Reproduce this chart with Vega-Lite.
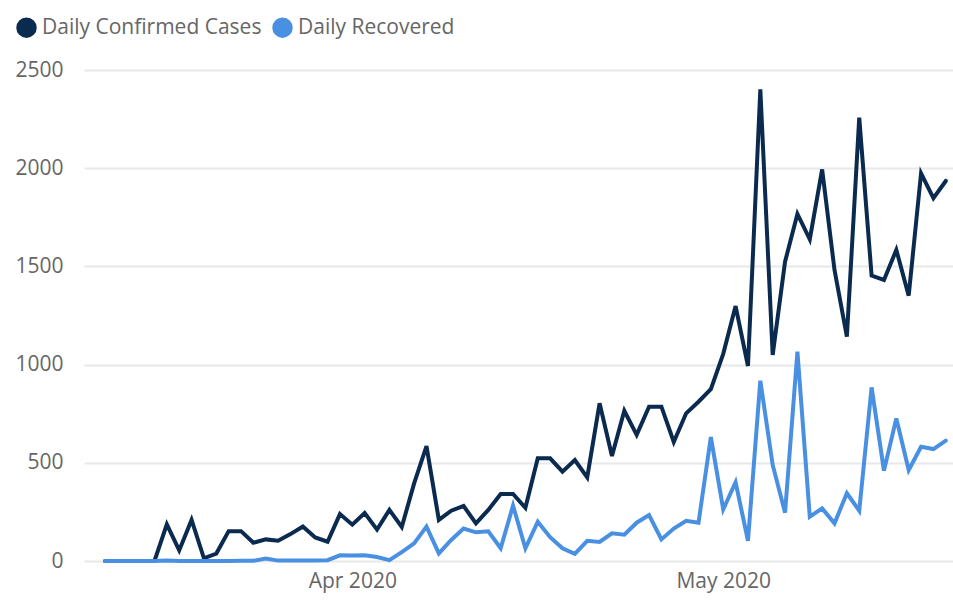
{
  "$schema": "https://vega.github.io/schema/vega-lite/v6.json",
  "width": 869,
  "height": 491,
  "autosize": {"type": "none"},
  "padding": {"left": 84, "top": 70, "right": 0, "bottom": 39},
  "background": "white",
  "config": {"view": {"stroke": null}, "font": "Open Sans"},
  "data": {
    "values": [
      {"date": "2020-03-12", "Daily Confirmed Cases": 0, "Daily Recovered": 0},
      {"date": "2020-03-13", "Daily Confirmed Cases": 0, "Daily Recovered": 0},
      {"date": "2020-03-14", "Daily Confirmed Cases": 0, "Daily Recovered": 0},
      {"date": "2020-03-15", "Daily Confirmed Cases": 0, "Daily Recovered": 0},
      {"date": "2020-03-16", "Daily Confirmed Cases": 0, "Daily Recovered": 0},
      {"date": "2020-03-17", "Daily Confirmed Cases": 187, "Daily Recovered": 3},
      {"date": "2020-03-18", "Daily Confirmed Cases": 54, "Daily Recovered": 0},
      {"date": "2020-03-19", "Daily Confirmed Cases": 209, "Daily Recovered": 0},
      {"date": "2020-03-20", "Daily Confirmed Cases": 14, "Daily Recovered": 0},
      {"date": "2020-03-21", "Daily Confirmed Cases": 38, "Daily Recovered": 0},
      {"date": "2020-03-22", "Daily Confirmed Cases": 152, "Daily Recovered": 0},
      {"date": "2020-03-23", "Daily Confirmed Cases": 152, "Daily Recovered": 1},
      {"date": "2020-03-24", "Daily Confirmed Cases": 93, "Daily Recovered": 1},
      {"date": "2020-03-25", "Daily Confirmed Cases": 110, "Daily Recovered": 12},
      {"date": "2020-03-26", "Daily Confirmed Cases": 103, "Daily Recovered": 2},
      {"date": "2020-03-27", "Daily Confirmed Cases": 137, "Daily Recovered": 2},
      {"date": "2020-03-28", "Daily Confirmed Cases": 176, "Daily Recovered": 3},
      {"date": "2020-03-29", "Daily Confirmed Cases": 120, "Daily Recovered": 2},
      {"date": "2020-03-30", "Daily Confirmed Cases": 98, "Daily Recovered": 4},
      {"date": "2020-03-31", "Daily Confirmed Cases": 239, "Daily Recovered": 29},
      {"date": "2020-04-01", "Daily Confirmed Cases": 185, "Daily Recovered": 28},
      {"date": "2020-04-02", "Daily Confirmed Cases": 244, "Daily Recovered": 29},
      {"date": "2020-04-03", "Daily Confirmed Cases": 160, "Daily Recovered": 20},
      {"date": "2020-04-04", "Daily Confirmed Cases": 260, "Daily Recovered": 4},
      {"date": "2020-04-05", "Daily Confirmed Cases": 173, "Daily Recovered": 45},
      {"date": "2020-04-06", "Daily Confirmed Cases": 395, "Daily Recovered": 90},
      {"date": "2020-04-07", "Daily Confirmed Cases": 585, "Daily Recovered": 175},
      {"date": "2020-04-08", "Daily Confirmed Cases": 209, "Daily Recovered": 39},
      {"date": "2020-04-09", "Daily Confirmed Cases": 256, "Daily Recovered": 107},
      {"date": "2020-04-10", "Daily Confirmed Cases": 280, "Daily Recovered": 165},
      {"date": "2020-04-11", "Daily Confirmed Cases": 192, "Daily Recovered": 146},
      {"date": "2020-04-12", "Daily Confirmed Cases": 260, "Daily Recovered": 151},
      {"date": "2020-04-13", "Daily Confirmed Cases": 341, "Daily Recovered": 65},
      {"date": "2020-04-14", "Daily Confirmed Cases": 341, "Daily Recovered": 282},
      {"date": "2020-04-15", "Daily Confirmed Cases": 271, "Daily Recovered": 65},
      {"date": "2020-04-16", "Daily Confirmed Cases": 523, "Daily Recovered": 200},
      {"date": "2020-04-17", "Daily Confirmed Cases": 523, "Daily Recovered": 121},
      {"date": "2020-04-18", "Daily Confirmed Cases": 455, "Daily Recovered": 65},
      {"date": "2020-04-19", "Daily Confirmed Cases": 514, "Daily Recovered": 36},
      {"date": "2020-04-20", "Daily Confirmed Cases": 426, "Daily Recovered": 103},
      {"date": "2020-04-21", "Daily Confirmed Cases": 803, "Daily Recovered": 97},
      {"date": "2020-04-22", "Daily Confirmed Cases": 535, "Daily Recovered": 141},
      {"date": "2020-04-23", "Daily Confirmed Cases": 765, "Daily Recovered": 134},
      {"date": "2020-04-24", "Daily Confirmed Cases": 642, "Daily Recovered": 195},
      {"date": "2020-04-25", "Daily Confirmed Cases": 786, "Daily Recovered": 234},
      {"date": "2020-04-26", "Daily Confirmed Cases": 786, "Daily Recovered": 110},
      {"date": "2020-04-27", "Daily Confirmed Cases": 606, "Daily Recovered": 165},
      {"date": "2020-04-28", "Daily Confirmed Cases": 752, "Daily Recovered": 205},
      {"date": "2020-04-29", "Daily Confirmed Cases": 811, "Daily Recovered": 195},
      {"date": "2020-04-30", "Daily Confirmed Cases": 875, "Daily Recovered": 631},
      {"date": "2020-05-01", "Daily Confirmed Cases": 1055, "Daily Recovered": 263},
      {"date": "2020-05-02", "Daily Confirmed Cases": 1298, "Daily Recovered": 401},
      {"date": "2020-05-03", "Daily Confirmed Cases": 993, "Daily Recovered": 103},
      {"date": "2020-05-04", "Daily Confirmed Cases": 2402, "Daily Recovered": 918},
      {"date": "2020-05-05", "Daily Confirmed Cases": 1049, "Daily Recovered": 489},
      {"date": "2020-05-06", "Daily Confirmed Cases": 1524, "Daily Recovered": 246},
      {"date": "2020-05-07", "Daily Confirmed Cases": 1767, "Daily Recovered": 1066},
      {"date": "2020-05-08", "Daily Confirmed Cases": 1638, "Daily Recovered": 226},
      {"date": "2020-05-09", "Daily Confirmed Cases": 1994, "Daily Recovered": 268},
      {"date": "2020-05-10", "Daily Confirmed Cases": 1482, "Daily Recovered": 192},
      {"date": "2020-05-11", "Daily Confirmed Cases": 1142, "Daily Recovered": 345},
      {"date": "2020-05-12", "Daily Confirmed Cases": 2257, "Daily Recovered": 256},
      {"date": "2020-05-13", "Daily Confirmed Cases": 1453, "Daily Recovered": 884},
      {"date": "2020-05-14", "Daily Confirmed Cases": 1431, "Daily Recovered": 460},
      {"date": "2020-05-15", "Daily Confirmed Cases": 1584, "Daily Recovered": 726},
      {"date": "2020-05-16", "Daily Confirmed Cases": 1351, "Daily Recovered": 463},
      {"date": "2020-05-17", "Daily Confirmed Cases": 1974, "Daily Recovered": 582},
      {"date": "2020-05-18", "Daily Confirmed Cases": 1847, "Daily Recovered": 570},
      {"date": "2020-05-19", "Daily Confirmed Cases": 1935, "Daily Recovered": 613}
    ]
  },
  "transform": [
    {"fold": ["Daily Confirmed Cases", "Daily Recovered"], "as": ["series", "value"]}
  ],
  "mark": {"type": "line", "strokeWidth": 4, "strokeCap": "round", "strokeJoin": "miter"},
  "encoding": {
    "x": {
      "field": "date",
      "type": "temporal",
      "scale": {
        "type": "utc",
        "domain": [
          {"year": 2020, "month": 3, "date": 10, "hours": 7, "minutes": 12, "utc": true},
          {"year": 2020, "month": 5, "date": 19, "hours": 14, "utc": true}
        ]
      },
      "axis": {
        "title": null,
        "values": [
          {"year": 2020, "month": 4, "date": 1, "utc": true},
          {"year": 2020, "month": 5, "date": 1, "utc": true}
        ],
        "format": "%b %Y",
        "grid": false,
        "domain": false,
        "ticks": false,
        "labelPadding": 9,
        "labelFontSize": 21,
        "labelColor": "#666666"
      }
    },
    "y": {
      "field": "value",
      "type": "quantitative",
      "scale": {"domain": [0, 2500], "nice": false},
      "axis": {
        "title": null,
        "values": [0, 500, 1000, 1500, 2000, 2500],
        "format": "d",
        "grid": true,
        "gridColor": "#e8e8e8",
        "gridWidth": 2,
        "domain": false,
        "ticks": false,
        "labelPadding": 21,
        "labelFontSize": 21,
        "labelColor": "#666666"
      }
    },
    "color": {
      "field": "series",
      "type": "nominal",
      "scale": {
        "domain": ["Daily Confirmed Cases", "Daily Recovered"],
        "range": ["#0b2a4f", "#4a90e2"]
      },
      "legend": {
        "title": null,
        "orient": "none",
        "legendX": -68,
        "legendY": -53,
        "direction": "horizontal",
        "symbolType": "circle",
        "symbolSize": 420,
        "symbolStrokeWidth": 0,
        "labelFontSize": 21,
        "labelColor": "#666666",
        "labelOffset": 5,
        "labelLimit": 400,
        "columnPadding": 10,
        "encode": {
          "symbols": {
            "update": {
              "fill": {"scale": "color", "field": "value"},
              "opacity": {"value": 1}
            }
          }
        }
      }
    }
  }
}
